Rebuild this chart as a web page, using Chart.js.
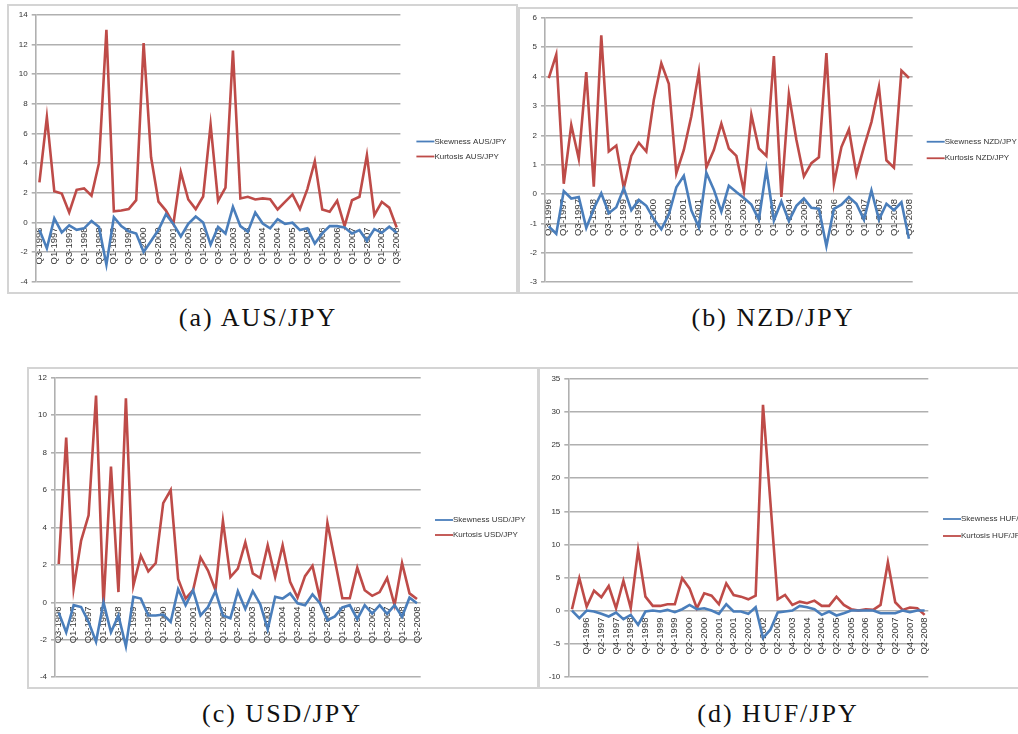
<!DOCTYPE html>
<html>
<head>
<meta charset="utf-8">
<script src="https://cdn.jsdelivr.net/npm/chart.js@4.4.1/dist/chart.umd.min.js"></script>
<style>
  body { margin: 0; background: #fff; width: 1018px; height: 734px; position: relative; overflow: hidden; }
  .frame { position: absolute; border: 2px solid #d4d4d4; box-sizing: border-box; }
  canvas { position: absolute; }
  .cap { position: absolute; width: 300px; text-align: center; font-family: "Liberation Serif", "DejaVu Serif", serif; font-size: 26px; letter-spacing: 2px; color: #111; }
</style>
</head>
<body>
<div class="frame" style="left:7px;top:4px;width:511px;height:290px"></div>
<div class="frame" style="left:518px;top:7px;width:510px;height:287px"></div>
<div class="frame" style="left:27px;top:367px;width:512px;height:322px"></div>
<div class="frame" style="left:538px;top:367px;width:490px;height:322px"></div>

<canvas id="audChart" width="506" height="286" style="left:9px;top:6px"></canvas>
<canvas id="nzdChart" width="498" height="282" style="left:520px;top:9px"></canvas>
<canvas id="usdChart" width="507" height="317" style="left:29px;top:369px"></canvas>
<canvas id="hufChart" width="478" height="317" style="left:540px;top:369px"></canvas>

<div class="cap" style="left:108px;top:303px">(a) AUS/JPY</div>
<div class="cap" style="left:623px;top:303px">(b) NZD/JPY</div>
<div class="cap" style="left:132px;top:699px">(c) USD/JPY</div>
<div class="cap" style="left:628px;top:699px">(d) HUF/JPY</div>

<script>
//============================
// Data
//============================

// quarters Q3-1996 .. Q3-2008, used by AUS, NZD and USD
const quarters = [
  "Q3-1996", "Q4-1996", "Q1-1997", "Q2-1997", "Q3-1997", "Q4-1997", "Q1-1998", "Q2-1998",
  "Q3-1998", "Q4-1998", "Q1-1999", "Q2-1999", "Q3-1999", "Q4-1999", "Q1-2000", "Q2-2000",
  "Q3-2000", "Q4-2000", "Q1-2001", "Q2-2001", "Q3-2001", "Q4-2001", "Q1-2002", "Q2-2002",
  "Q3-2002", "Q4-2002", "Q1-2003", "Q2-2003", "Q3-2003", "Q4-2003", "Q1-2004", "Q2-2004",
  "Q3-2004", "Q4-2004", "Q1-2005", "Q2-2005", "Q3-2005", "Q4-2005", "Q1-2006", "Q2-2006",
  "Q3-2006", "Q4-2006", "Q1-2007", "Q2-2007", "Q3-2007", "Q4-2007", "Q1-2008", "Q2-2008",
  "Q3-2008",
];

// HUF sheet starts one row earlier with an empty first row
const quartersHuf = [
  "", "Q3-1996", "Q4-1996", "Q1-1997", "Q2-1997", "Q3-1997", "Q4-1997", "Q1-1998",
  "Q2-1998", "Q3-1998", "Q4-1998", "Q1-1999", "Q2-1999", "Q3-1999", "Q4-1999", "Q1-2000",
  "Q2-2000", "Q3-2000", "Q4-2000", "Q1-2001", "Q2-2001", "Q3-2001", "Q4-2001", "Q1-2002",
  "Q2-2002", "Q3-2002", "Q4-2002", "Q1-2003", "Q2-2003", "Q3-2003", "Q4-2003", "Q1-2004",
  "Q2-2004", "Q3-2004", "Q4-2004", "Q1-2005", "Q2-2005", "Q3-2005", "Q4-2005", "Q1-2006",
  "Q2-2006", "Q3-2006", "Q4-2006", "Q1-2007", "Q2-2007", "Q3-2007", "Q4-2007", "Q1-2008",
  "Q2-2008",
];

const skewAud = [
  -0.5, -1.75, 0.27, -0.67, -0.2, -0.5, -0.4, 0.1, -0.3, -2.85,
  0.35, -0.25, -0.6, -0.75, -2.0, -1.25, -0.5, 0.55, -0.1, -0.95,
  -0.1, 0.4, 0.0, -1.5, -0.3, -0.75, 1.05, -0.25, -0.63, 0.67,
  -0.07, -0.4, 0.22, -0.1, -0.02, -0.52, -0.4, -1.42, -0.74, -0.25,
  -0.25, -0.34, -0.74, -0.52, -1.24, -0.45, -0.7, -0.29, -0.7,
];
const kurtAud = [
  2.7, 7.1, 2.1, 1.95, 0.67, 2.2, 2.3, 1.8, 4.0, 13.0,
  0.75, 0.8, 0.9, 1.5, 12.1, 4.4, 1.4, 0.8, -0.1, 3.4,
  1.55, 0.9, 1.75, 6.6, 1.45, 2.35, 11.6, 1.62, 1.73, 1.55,
  1.62, 1.57, 0.88, 1.39, 1.89, 0.9, 2.25, 4.13, 0.88, 0.72,
  1.46, -0.25, 1.5, 1.73, 4.54, 0.49, 1.39, 1.0, -0.34,
];

const skewNzd = [
  -1.1, -1.35, 0.1, -0.15, -0.1, -1.15, -0.5, 0.03, -0.65, -0.45,
  0.2, -0.55, -0.2, -0.4, -0.85, -1.2, -0.7, 0.23, 0.62, -0.55,
  -1.13, 0.73, 0.15, -0.6, 0.28, 0.07, -0.13, -0.36, -0.87, 0.85,
  -0.9, -0.25, -0.92, -0.4, -0.15, -0.47, -0.5, -1.77, -0.5, -0.36,
  -0.1, -0.33, -0.87, 0.12, -0.87, -0.33, -0.55, -0.28, -1.52,
];
const kurtNzd = [
  3.95, 4.75, 0.35, 2.35, 1.2, 4.15, 0.25, 5.4, 1.45, 1.65,
  0.2, 1.3, 1.75, 1.45, 3.2, 4.45, 3.75, 0.7, 1.5, 2.65,
  4.15, 0.9, 1.5, 2.4, 1.55, 1.3, 0.1, 2.7, 1.55, 1.3,
  4.7, -0.1, 3.4, 1.85, 0.6, 1.05, 1.25, 4.8, 0.35, 1.6,
  2.2, 0.67, 1.6, 2.45, 3.65, 1.15, 0.9, 4.2, 3.95,
];

const skewUsd = [
  -0.55, -1.6, -0.15, -0.25, -1.05, -2.1, 0.0, -1.6, -0.7, -2.35,
  0.3, 0.2, -0.7, -0.7, -0.65, -1.05, 0.7, -0.15, 0.65, -0.7,
  -0.25, 0.6, -0.7, -0.85, 0.6, -0.35, 0.6, -0.1, -1.45, 0.3,
  0.2, 0.48, -0.05, -0.15, 0.43, -0.05, -0.95, -0.75, -0.27, -0.15,
  -0.9, -0.15, -0.6, -0.15, -0.62, -0.15, -0.77, 0.25, -0.05,
];
const kurtUsd = [
  2.05, 8.8, 0.75, 3.3, 4.65, 11.05, -0.15, 7.25, 0.55, 10.9,
  0.9, 2.5, 1.65, 2.1, 5.3, 6.0, 1.25, 0.2, 0.65, 2.4,
  1.7, 0.65, 4.35, 1.35, 1.8, 3.2, 1.55, 1.3, 3.05, 1.35,
  3.05, 1.1, 0.25, 1.4, 1.95, 0.2, 4.25, 2.25, 0.22, 0.22,
  1.85, 0.65, 0.35, 0.55, 1.3, -0.15, 2.1, 0.48, 0.18,
];

const skewHuf = [
  0, -1.15, 0, -0.15, -0.5, -0.9, -0.3, -1.3, -0.65, -2.15,
  -0.15, 0, -0.15, 0.1, -0.25, 0.2, 0.85, 0.2, 0.35, 0,
  -0.5, 0.95, -0.15, -0.15, -0.5, 0.5, -4.15, -2.9, -0.3, -0.15,
  0, 0.7, 0.5, 0.2, -0.65, -0.15, -0.75, -0.4, 0, 0,
  0, 0, -0.4, -0.4, -0.4, 0, -0.25, 0, 0,
];
const kurtHuf = [
  0.2, 4.9, 0.6, 3.0, 2.0, 3.7, 0.35, 4.5, 0.35, 9.15,
  2.1, 0.7, 0.7, 0.95, 0.95, 4.9, 3.35, 0.35, 2.6, 2.25,
  0.95, 4.1, 2.35, 2.1, 1.7, 2.25, 31.1, 16.5, 1.7, 2.35,
  0.85, 1.35, 1.1, 1.5, 0.7, 0.7, 2.1, 0.85, 0.2, 0,
  0.2, 0.1, 0.85, 7.3, 1.25, 0.1, 0.45, 0.35, -0.65,
];

//============================
// Chart methods
//============================

const BLUE = "#4a7ebb";
const RED = "#be4b48";
const GRID = "#b0b0b0";
const TEXT = "#333";
const FONT = '"Liberation Sans", Arial, sans-serif';

// Excel style legend: short line then the name, right of the plot
const sideLegend = {
  id: "sideLegend",
  afterDraw(chart, args, opts) {
    const { ctx, chartArea } = chart;
    const cy = chart.height / 2;
    ctx.save();
    ctx.font = "8px " + FONT;
    ctx.textBaseline = "middle";
    chart.data.datasets.forEach((ds, i) => {
      const y = cy + (i - 0.5) * opts.gap;
      const x0 = chartArea.right + opts.x;
      ctx.strokeStyle = ds.borderColor;
      ctx.lineWidth = 1.8;
      ctx.beginPath();
      ctx.moveTo(x0, y);
      ctx.lineTo(x0 + 18, y);
      ctx.stroke();
      ctx.fillStyle = TEXT;
      ctx.fillText(ds.label, x0 + 18, y);
    });
    ctx.restore();
  },
};

function makeChart(id, labels, skew, kurt, name, yMin, yMax, step, box) {
  const data = {
    labels: labels,
    datasets: [
      { label: "Skewness " + name, data: skew, borderColor: BLUE, backgroundColor: BLUE },
      { label: "Kurtosis " + name, data: kurt, borderColor: RED, backgroundColor: RED },
    ],
  };

  const config = {
    type: "line",
    data: data,
    options: {
      responsive: false,
      animation: false,
      layout: { padding: { left: 0, right: box.right, top: box.top, bottom: box.bottom } },
      elements: {
        point: { radius: 0 },
        line: { borderWidth: 2.6, tension: 0 },
      },
      scales: {
        x: {
          type: "category",
          offset: true,
          position: { y: 0 },
          grid: { display: false, drawTicks: false },
          border: { display: false },
          ticks: {
            autoSkip: false,
            minRotation: 90,
            maxRotation: 90,
            padding: box.labelPad,
            color: TEXT,
            font: { size: 9.5, family: FONT },
            callback: function (v, i) {
              return i % 2 === 0 ? this.getLabelForValue(v) : "";
            },
          },
          afterFit: (s) => { s.height = 0; },
        },
        y: {
          min: yMin,
          max: yMax,
          ticks: { stepSize: step, padding: 4, color: TEXT, font: { size: 8, family: FONT } },
          grid: { color: GRID, lineWidth: 1.6, tickLength: 4 },
          border: { display: true, color: GRID, width: 1.6 },
          afterFit: (s) => { s.width = box.axis; },
        },
      },
      plugins: {
        legend: { display: false },
        tooltip: { enabled: false },
        sideLegend: { x: box.legendX, gap: box.gap },
      },
    },
    plugins: [sideLegend],
  };

  return new Chart(document.getElementById(id), config);
}

makeChart("audChart", quarters, skewAud, kurtAud, "AUS/JPY", -4, 14, 2,
  { axis: 26.7, right: 114.6, top: 9, bottom: 10.3, legendX: 16, gap: 15, labelPad: 5 });
makeChart("nzdChart", quarters, skewNzd, kurtNzd, "NZD/JPY", -3, 6, 1,
  { axis: 25, right: 105.3, top: 8.3, bottom: 8, legendX: 14, gap: 16.5, labelPad: 5 });
makeChart("usdChart", quarters, skewUsd, kurtUsd, "USD/JPY", -4, 12, 2,
  { axis: 26, right: 115.3, top: 8.7, bottom: 8.7, legendX: 14.3, gap: 15, labelPad: 4 });
makeChart("hufChart", quartersHuf, skewHuf, kurtHuf, "HUF/JPY", -10, 35, 5,
  { axis: 28.3, right: 89.7, top: 10, bottom: 9.3, legendX: 14.7, gap: 17, labelPad: 7 });
</script>
</body>
</html>
